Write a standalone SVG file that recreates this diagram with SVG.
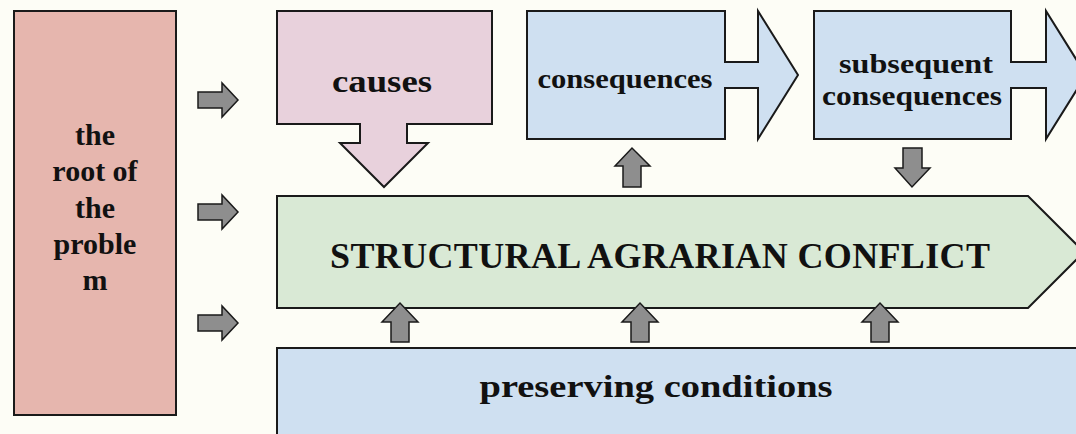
<svg xmlns="http://www.w3.org/2000/svg" width="1076" height="434" viewBox="0 0 1076 434">
<style>
.box{stroke:#1a1a1a;stroke-width:2;stroke-linejoin:miter}
.arr{fill:#8e8e8e;stroke:#1a1a1a;stroke-width:1.5;stroke-linejoin:miter}
text{font-family:"Liberation Serif","Times New Roman",serif;font-weight:bold;fill:#111;text-anchor:middle}
</style>
<rect x="0" y="0" width="1076" height="434" fill="#fdfdf6"/>
<g id="root">
<rect class="box" x="14" y="11" width="162" height="404" fill="#e6b6ae"/>
<text font-size="30"><tspan x="95" y="145">the</tspan><tspan x="95" y="181">root of</tspan><tspan x="95" y="218">the</tspan><tspan x="95" y="254">proble</tspan><tspan x="95" y="290">m</tspan></text>
</g>
<g id="causes">
<path class="box" d="M277,11 H492 V124 H407 V143 H428 L384,187 L340,143 H360 V124 H277 Z" fill="#e8d1dc"/>
<text x="382" y="92" font-size="32" textLength="100" lengthAdjust="spacingAndGlyphs">causes</text>
</g>
<g id="consequences">
<path class="box" d="M527,11 H725 V62 H758 V11 L798,75 L758,139 V88 H725 V139 H527 Z" fill="#cfe0f1"/>
<text x="625" y="88" font-size="28" textLength="175" lengthAdjust="spacingAndGlyphs">consequences</text>
</g>
<g id="subsequent">
<path class="box" d="M814,11 H1011 V62 H1046 V11 L1086,75 L1046,139 V88 H1011 V139 H814 Z" fill="#cfe0f1"/>
<text x="916" y="73" font-size="28" textLength="154" lengthAdjust="spacingAndGlyphs">subsequent</text>
<text x="912" y="105" font-size="28" textLength="180" lengthAdjust="spacingAndGlyphs">consequences</text>
</g>
<g id="conflict">
<path class="box" d="M277,196 H1028 L1084,252 L1028,308 H277 Z" fill="#d9e9d5"/>
<text x="660" y="268" font-size="36" textLength="660" lengthAdjust="spacing">STRUCTURAL AGRARIAN CONFLICT</text>
</g>
<g id="preserving">
<rect class="box" x="277" y="348" width="810" height="100" fill="#cfe0f1"/>
<text x="656" y="397" font-size="32" textLength="353" lengthAdjust="spacingAndGlyphs">preserving conditions</text>
</g>
<g id="connectors">
<path class="arr" d="M198,92 H222 V83 L238,100 L222,117 V108 H198 Z"/>
<path class="arr" d="M198,204 H222 V195 L238,212 L222,229 V220 H198 Z"/>
<path class="arr" d="M198,315 H222 V306 L238,323 L222,340 V331 H198 Z"/>
<path class="arr" d="M623,187 V166 H615 L632,148 L650,166 H641 V187 Z"/>
<path class="arr" d="M903,148 V168 H895 L912,187 L930,168 H922 V148 Z"/>
<path class="arr" d="M391,342 V322 H382 L400,303 L418,322 H409 V342 Z"/>
<path class="arr" d="M631,342 V322 H622 L640,303 L658,322 H649 V342 Z"/>
<path class="arr" d="M871,342 V322 H862 L880,303 L898,322 H889 V342 Z"/>
</g>
</svg>
